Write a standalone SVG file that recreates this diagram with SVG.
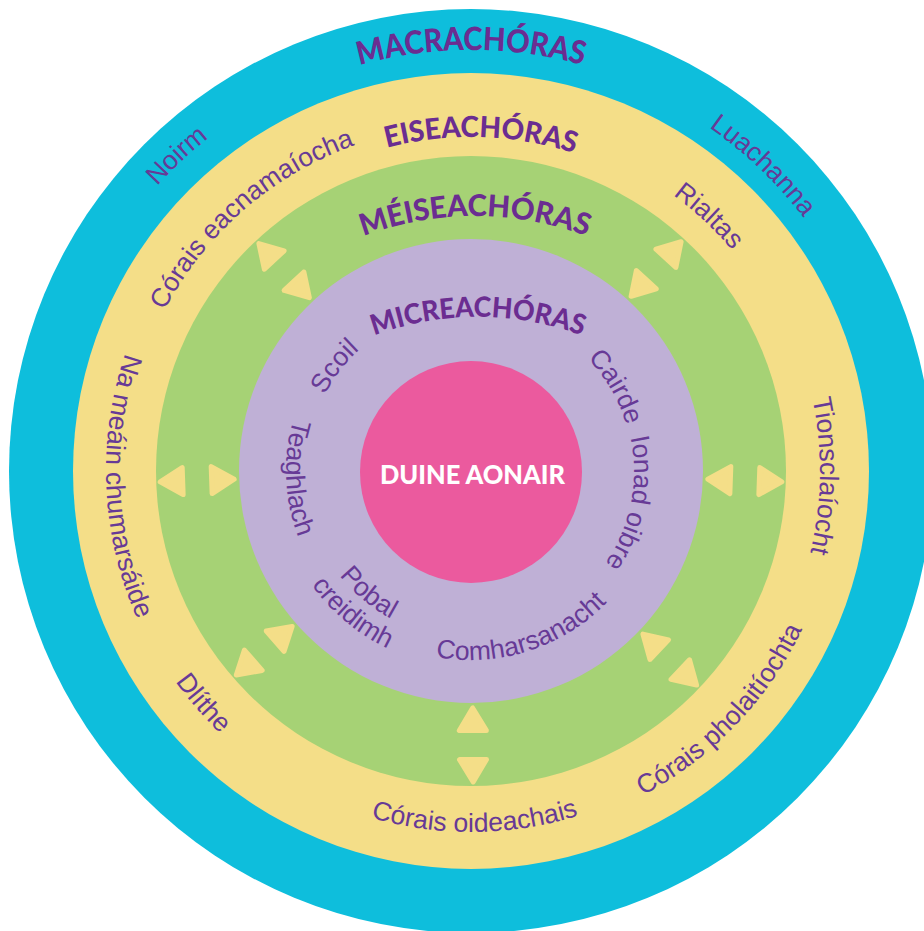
<svg xmlns="http://www.w3.org/2000/svg" xmlns:xlink="http://www.w3.org/1999/xlink" width="924" height="931" viewBox="0 0 924 931">
<style>
.title{font-family:"Lato","Liberation Sans",sans-serif;font-weight:900;fill:#6B2D91;}
.lbl{font-family:"Liberation Sans","Arial",sans-serif;font-size:26.5px;fill:#673A96;}
.tri{fill:#F4DE88;stroke:#F4DE88;stroke-width:5;stroke-linejoin:round;}
</style>
<defs>
<path id="triOut" d="M0,-311 L13.5,-288.5 L-13.5,-288.5 Z"/>
<path id="triIn" d="M0,-237 L13.5,-259.5 L-13.5,-259.5 Z"/>
<path id="pMacro" d="M200.4,148.5 A421,421 0 0 1 741.6,148.5"/>
<path id="pExo" d="M264.0,208.9 A334,334 0 0 1 693.2,221.6"/>
<path id="pMeso" d="M292.6,273.5 A318,318 0 0 1 657.4,273.5"/>
<path id="pMicro" d="M305.9,371.2 A300,300 0 0 1 650.1,371.2"/>
<path id="pNoirm" d="M93.2,278.5 A424,424 0 0 1 305.3,80.7"/>
<path id="pLuach" d="M605.0,75.1 A418,418 0 0 1 860.5,319.1"/>
<path id="pEacn" d="M129.3,416.9 A346,346 0 0 1 465.0,125.1"/>
<path id="pRialtas" d="M604.6,156.2 A342,342 0 0 1 775.7,315.7"/>
<path id="pMeain" d="M223.9,202.3 A365,365 0 0 0 249.3,761.0"/>
<path id="pTions" d="M741.4,250.4 A349,349 0 0 1 735.2,699.0"/>
<path id="pDlithe" d="M131.9,600.5 A363,363 0 0 0 294.5,788.2"/>
<path id="pOid" d="M241.9,749.9 A361,361 0 0 0 705.9,745.1"/>
<path id="pPol" d="M510.6,835.9 A367,367 0 0 0 837.2,495.3"/>
<path id="pScoil" d="M307.4,449.5 A165,165 0 0 1 407.9,318.6"/>
<path id="pCairde" d="M551.5,330.4 A162,162 0 0 1 633.0,470.4"/>
<path id="pTeagh" d="M315.3,371.1 A185,185 0 0 0 323.8,583.1"/>
<path id="pIonad" d="M620.4,405.8 A163,163 0 0 1 583.4,589.0"/>
<path id="pPobal" d="M313.5,529.6 A168,168 0 0 0 440.7,636.2"/>
<path id="pCreid" d="M287.1,538.7 A196,196 0 0 0 437.6,664.1"/>
<path id="pComh" d="M384.0,638.8 A189,189 0 0 0 638.8,558.0"/>
</defs>
<rect width="924" height="931" fill="#FFFFFF"/>

<g id="macrosystem">
<circle cx="471" cy="471" r="462" fill="#0EBEDC"/>
<text class="title" font-size="32"><textPath href="#pMacro" startOffset="50%" text-anchor="middle" textLength="226" lengthAdjust="spacingAndGlyphs">MACRACHÓRAS</textPath></text>
<text class="lbl"><textPath href="#pNoirm" startOffset="50%" text-anchor="middle">Noirm</textPath></text>
<text class="lbl"><textPath href="#pLuach" startOffset="50%" text-anchor="middle">Luachanna</textPath></text>
</g>

<g id="exosystem">
<circle cx="471" cy="471" r="398" fill="#F4DE88"/>
<text class="title" font-size="29"><textPath href="#pExo" startOffset="50%" text-anchor="middle" textLength="190" lengthAdjust="spacingAndGlyphs">EISEACHÓRAS</textPath></text>
<text class="lbl"><textPath href="#pEacn" startOffset="50%" text-anchor="middle">Córais eacnamaíocha</textPath></text>
<text class="lbl"><textPath href="#pRialtas" startOffset="50%" text-anchor="middle">Rialtas</textPath></text>
<text class="lbl"><textPath href="#pMeain" startOffset="50%" text-anchor="middle">Na meáin chumarsáide</textPath></text>
<text class="lbl"><textPath href="#pTions" startOffset="50%" text-anchor="middle">Tionsclaíocht</textPath></text>
<text class="lbl"><textPath href="#pDlithe" startOffset="50%" text-anchor="middle">Dlíthe</textPath></text>
<text class="lbl"><textPath href="#pOid" startOffset="50%" text-anchor="middle">Córais oideachais</textPath></text>
<text class="lbl"><textPath href="#pPol" startOffset="50%" text-anchor="middle">Córais pholaitíochta</textPath></text>
</g>

<g id="mesosystem">
<circle cx="471" cy="471" r="315" fill="#A6D275"/>
<text class="title" font-size="30"><textPath href="#pMeso" startOffset="50%" text-anchor="middle" textLength="228" lengthAdjust="spacingAndGlyphs">MÉISEACHÓRAS</textPath></text>
</g>

<g id="microsystem">
<circle cx="471" cy="471" r="232" fill="#BFB0D6"/>
<text class="title" font-size="28"><textPath href="#pMicro" startOffset="50%" text-anchor="middle" textLength="212" lengthAdjust="spacingAndGlyphs">MICREACHÓRAS</textPath></text>
<text class="lbl"><textPath href="#pScoil" startOffset="50%" text-anchor="middle">Scoil</textPath></text>
<text class="lbl"><textPath href="#pCairde" startOffset="50%" text-anchor="middle">Cairde</textPath></text>
<text class="lbl"><textPath href="#pTeagh" startOffset="50%" text-anchor="middle">Teaghlach</textPath></text>
<text class="lbl"><textPath href="#pIonad" startOffset="50%" text-anchor="middle">Ionad oibre</textPath></text>
<text class="lbl"><textPath href="#pPobal" startOffset="50%" text-anchor="middle">Pobal</textPath></text>
<text class="lbl"><textPath href="#pCreid" startOffset="50%" text-anchor="middle">creidimh</textPath></text>
<text class="lbl"><textPath href="#pComh" startOffset="50%" text-anchor="middle">Comharsanacht</textPath></text>
</g>

<g id="individual">
<circle cx="471" cy="472" r="111" fill="#EB5A9E"/>
<text x="472.5" y="484" text-anchor="middle" font-family="Lato, 'Liberation Sans', sans-serif" font-weight="900" font-size="26" fill="#FFFFFF" textLength="185" lengthAdjust="spacingAndGlyphs">DUINE AONAIR</text>
</g>

<g id="connectors">
<g transform="translate(471 471) rotate(268)"><use href="#triOut" class="tri"/><use href="#triIn" class="tri"/></g>
<g transform="translate(471 471) rotate(317)"><use href="#triOut" class="tri"/><use href="#triIn" class="tri"/></g>
<g transform="translate(471 471) rotate(42.5)"><use href="#triOut" class="tri"/><use href="#triIn" class="tri"/></g>
<g transform="translate(471 471) rotate(92)"><use href="#triOut" class="tri"/><use href="#triIn" class="tri"/></g>
<g transform="translate(471 471) rotate(133.5)"><use href="#triOut" class="tri"/><use href="#triIn" class="tri"/></g>
<g transform="translate(471 471) rotate(179.6)"><use href="#triOut" class="tri"/><use href="#triIn" class="tri"/></g>
<g transform="translate(471 471) rotate(229)"><use href="#triOut" class="tri"/><use href="#triIn" class="tri"/></g>
</g>
</svg>
